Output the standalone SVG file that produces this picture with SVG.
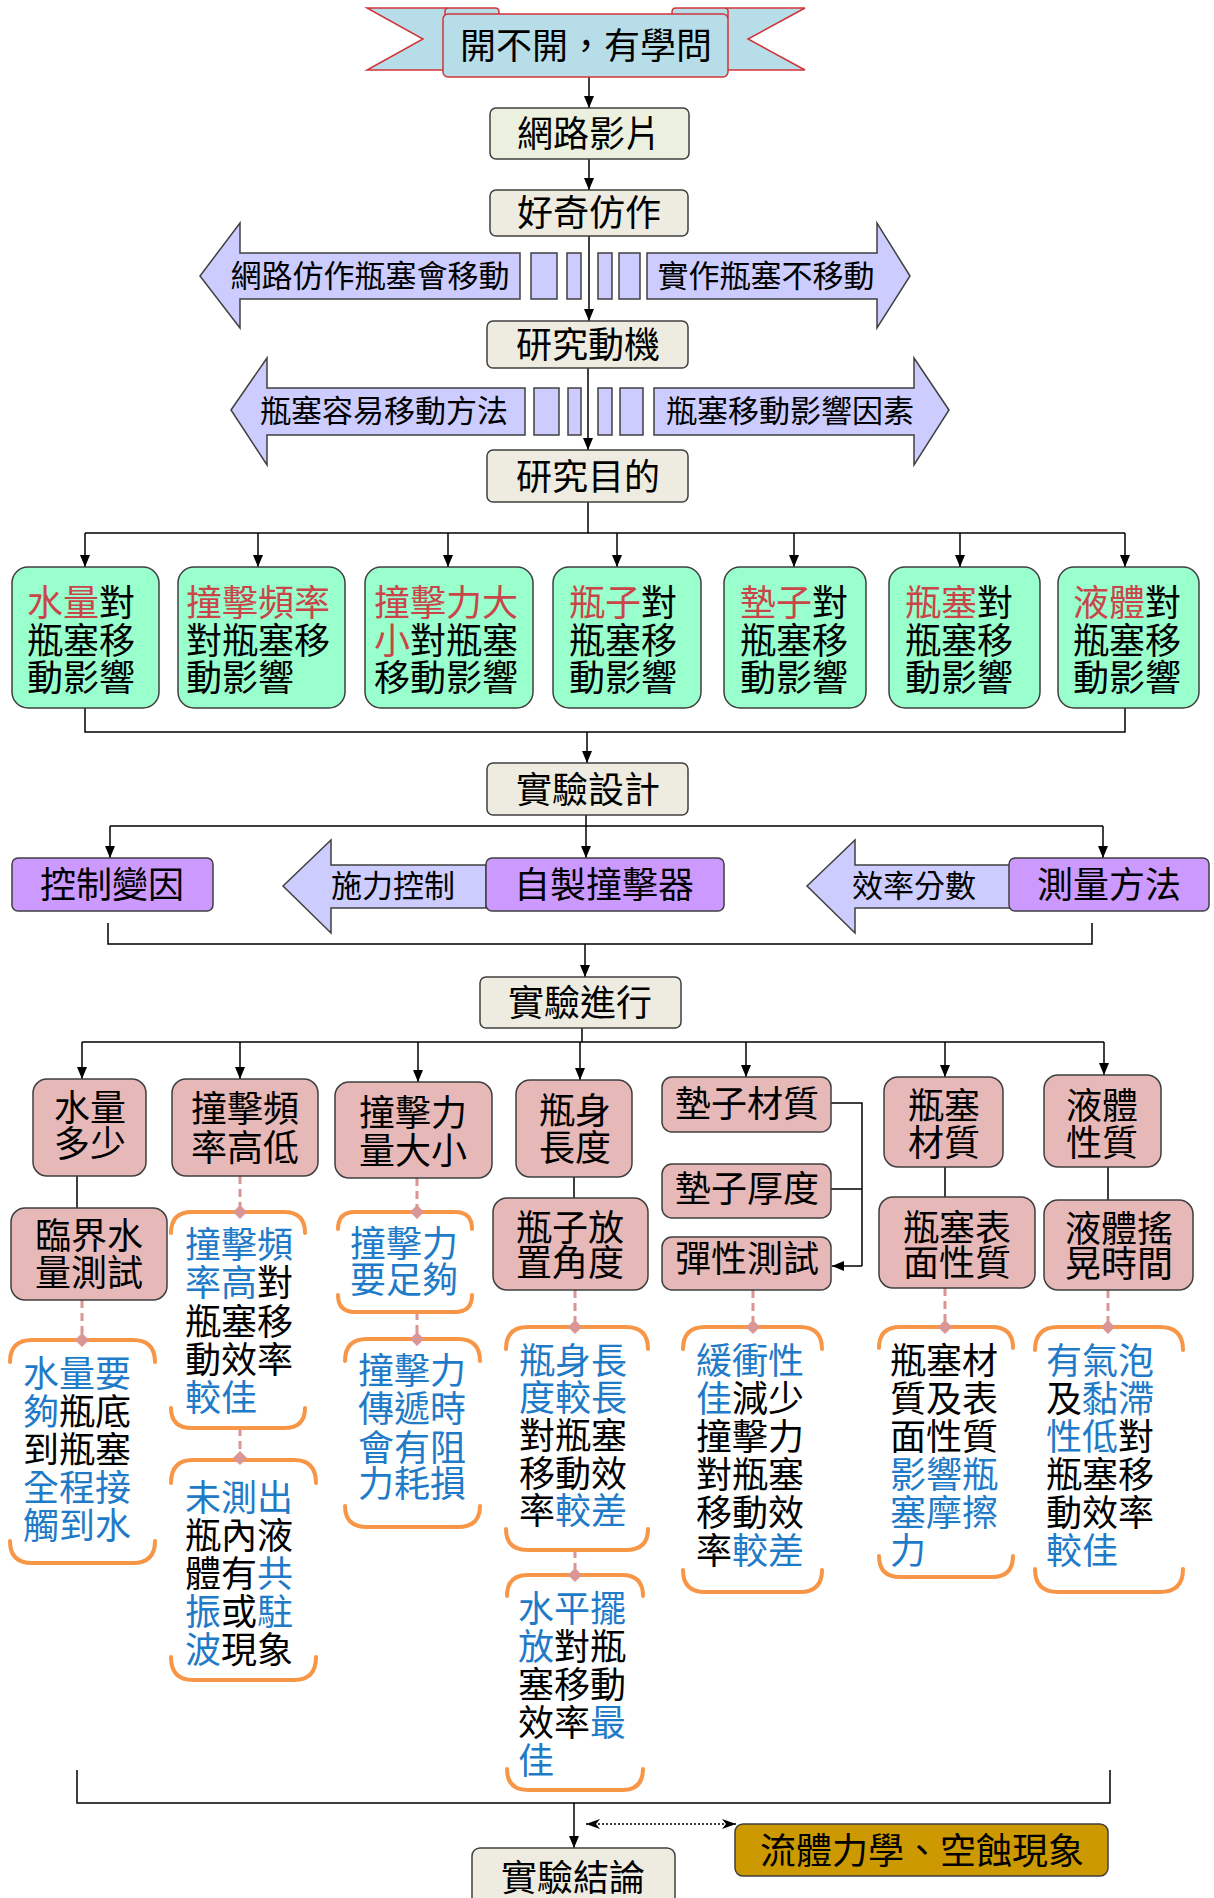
<svg xmlns="http://www.w3.org/2000/svg" width="1214" height="1898" viewBox="0 0 1214 1898">
<style>
.bx{stroke:#3f3f3f;stroke-width:1.5}
.tan{fill:#eeece1}.lg{fill:#ebf1de}.gr{fill:#99ffcc}.pu{fill:#cc99ff}.pk{fill:#e6b9b8}.gd{fill:#cc9900}
.ar{fill:#ccccff;stroke:#404040;stroke-width:1.5}
.t{font-family:"Noto Sans CJK TC","Noto Sans CJK SC",sans-serif;font-size:36px;fill:#000}
.s{font-size:31px}
.m{text-anchor:middle}
.b{fill:#1f7bc8}.r{fill:#c8464a}
.br{fill:none;stroke:#f79646;stroke-width:4;stroke-linecap:round}
.da{stroke:#d99694;stroke-width:3;stroke-dasharray:8 5;fill:none}
.dm{fill:#d99694}
.c{stroke:#000;stroke-width:1.5;fill:none}
</style>
<defs>
<marker id="ah" viewBox="0 0 12 10" refX="12" refY="5" markerWidth="12" markerHeight="10" markerUnits="userSpaceOnUse" orient="auto"><path d="M0,0 L12,5 L0,10 Z" fill="#000"/></marker>
<marker id="ab" viewBox="0 0 14 10" refX="14" refY="5" markerWidth="14" markerHeight="10" markerUnits="userSpaceOnUse" orient="auto-start-reverse"><path d="M0,0 L14,5 L0,10 L4,5 Z" fill="#000"/></marker>
</defs>
<rect width="1214" height="1898" fill="#fff"/>

<g id="connectors">
<line class="c" x1="589" y1="77" x2="589" y2="108" marker-end="url(#ah)"/>
<line class="c" x1="589" y1="159" x2="589" y2="190" marker-end="url(#ah)"/>
<line class="c" x1="589" y1="236" x2="589" y2="321" marker-end="url(#ah)"/>
<line class="c" x1="588" y1="368" x2="588" y2="450" marker-end="url(#ah)"/>
<path class="c" d="M588,502 V533 M85,533 H1125"/>
<line class="c" x1="85" y1="533" x2="85" y2="567" marker-end="url(#ah)"/>
<line class="c" x1="258" y1="533" x2="258" y2="567" marker-end="url(#ah)"/>
<line class="c" x1="448" y1="533" x2="448" y2="567" marker-end="url(#ah)"/>
<line class="c" x1="617" y1="533" x2="617" y2="567" marker-end="url(#ah)"/>
<line class="c" x1="794" y1="533" x2="794" y2="567" marker-end="url(#ah)"/>
<line class="c" x1="960" y1="533" x2="960" y2="567" marker-end="url(#ah)"/>
<line class="c" x1="1125" y1="533" x2="1125" y2="567" marker-end="url(#ah)"/>
<path class="c" d="M85,708 V732 H1125 V708"/>
<line class="c" x1="587" y1="732" x2="587" y2="763" marker-end="url(#ah)"/>
<path class="c" d="M586,815 V826 M110,826 H1103"/>
<line class="c" x1="110" y1="826" x2="110" y2="858" marker-end="url(#ah)"/>
<line class="c" x1="586" y1="826" x2="586" y2="858" marker-end="url(#ah)"/>
<line class="c" x1="1103" y1="826" x2="1103" y2="858" marker-end="url(#ah)"/>
<path class="c" d="M108,923 V944 H1092 V923"/>
<line class="c" x1="585" y1="944" x2="585" y2="977" marker-end="url(#ah)"/>
<path class="c" d="M582,1028 V1042 M82,1042 H1104"/>
<line class="c" x1="82" y1="1042" x2="82" y2="1079" marker-end="url(#ah)"/>
<line class="c" x1="240" y1="1042" x2="240" y2="1079" marker-end="url(#ah)"/>
<line class="c" x1="418" y1="1042" x2="418" y2="1082" marker-end="url(#ah)"/>
<line class="c" x1="580" y1="1042" x2="580" y2="1080" marker-end="url(#ah)"/>
<line class="c" x1="746" y1="1042" x2="746" y2="1077" marker-end="url(#ah)"/>
<line class="c" x1="945" y1="1042" x2="945" y2="1077" marker-end="url(#ah)"/>
<line class="c" x1="1104" y1="1042" x2="1104" y2="1075" marker-end="url(#ah)"/>
<path class="c" d="M77,1176 V1208 M574,1177 V1198 M945,1167 V1197 M1108,1167 V1200"/>
<path class="c" d="M831,1103 H862 V1266 M831,1189 H862"/>
<line class="c" x1="862" y1="1266" x2="832" y2="1266" marker-end="url(#ah)"/>
<path class="da" d="M82,1300 V1340 M240,1176 V1212 M240,1428 V1460 M417,1178 V1212 M417,1312 V1339 M575,1290 V1327 M575,1550 V1575 M753,1290 V1327 M945,1288 V1327 M1108,1290 V1327"/>
<path class="c" d="M77,1770 V1803 H1110 V1770"/>
<line class="c" x1="574" y1="1803" x2="574" y2="1848" marker-end="url(#ah)"/>
<line x1="586" y1="1824" x2="736" y2="1824" stroke="#000" stroke-width="1.5" stroke-dasharray="2 2" marker-start="url(#ab)" marker-end="url(#ab)"/>
</g>

<g id="title">
<path d="M367,8 H447 V70 H367 L423,39 Z" fill="#b7dde8" stroke="#d13438" stroke-width="1.5"/>
<path d="M805,8 H726 V70 H805 L748,39 Z" fill="#b7dde8" stroke="#d13438" stroke-width="1.5"/>
<path d="M445,17 V11 Q445,8 449,8 H495 Q499,8 499,12 V17 Z" fill="#b7dde8" stroke="#d13438" stroke-width="1.5"/>
<path d="M728,17 V11 Q728,8 724,8 H676 Q672,8 672,12 V17 Z" fill="#b7dde8" stroke="#d13438" stroke-width="1.5"/>
<rect x="443" y="14" width="285" height="63" rx="5" fill="#b7dde8" stroke="#d13438" stroke-width="1.5"/>
<text class="t m" x="586" y="59">開不開，有學問</text>
</g>

<g id="n-video"><rect class="bx lg" x="490" y="108" width="199" height="51" rx="6"/><text class="t m" x="589" y="147">網路影片</text></g>
<g id="n-imitate"><rect class="bx tan" x="490" y="190" width="198" height="46" rx="6"/><text class="t m" x="589" y="226">好奇仿作</text></g>

<g id="n-arrows1">
<path class="ar" d="M200,276 L240,223 V253 H520 V299 H240 V328 Z"/>
<path class="ar" d="M910,276 L877,223 V253 H647 V299 H877 V328 Z"/>
<rect class="ar" x="531" y="253" width="26" height="46"/>
<rect class="ar" x="567" y="253" width="14" height="46"/>
<rect class="ar" x="598" y="253" width="14" height="46"/>
<rect class="ar" x="619" y="253" width="21" height="46"/>
<text class="t s m" x="370" y="287">網路仿作瓶塞會移動</text>
<text class="t s m" x="766" y="287">實作瓶塞不移動</text>
</g>

<g id="n-motive"><rect class="bx tan" x="487" y="321" width="201" height="47" rx="6"/><text class="t m" x="588" y="358">研究動機</text></g>

<g id="n-arrows2">
<path class="ar" d="M231,410 L267,358 V388 H525 V435 H267 V465 Z"/>
<path class="ar" d="M949,410 L914,358 V388 H654 V435 H914 V465 Z"/>
<rect class="ar" x="534" y="388" width="25" height="47"/>
<rect class="ar" x="568" y="388" width="13" height="47"/>
<rect class="ar" x="598" y="388" width="14" height="47"/>
<rect class="ar" x="620" y="388" width="23" height="47"/>
<text class="t s m" x="384" y="422">瓶塞容易移動方法</text>
<text class="t s m" x="790" y="422">瓶塞移動影響因素</text>
</g>

<g id="n-purpose"><rect class="bx tan" x="487" y="450" width="201" height="52" rx="6"/><text class="t m" x="588" y="490">研究目的</text></g>

<g id="p1"><rect class="bx gr" x="12" y="567" width="147" height="141" rx="16"/><text class="t" x="27" y="616"><tspan class="r">水量</tspan>對<tspan x="27" y="654">瓶塞移</tspan><tspan x="27" y="691">動影響</tspan></text></g>
<g id="p2"><rect class="bx gr" x="178" y="567" width="167" height="141" rx="16"/><text class="t" x="186" y="616"><tspan class="r">撞擊頻率</tspan><tspan x="186" y="654">對瓶塞移</tspan><tspan x="186" y="691">動影響</tspan></text></g>
<g id="p3"><rect class="bx gr" x="365" y="567" width="168" height="141" rx="16"/><text class="t" x="374" y="616"><tspan class="r">撞擊力大</tspan><tspan x="374" y="654" class="r">小</tspan>對瓶塞<tspan x="374" y="691">移動影響</tspan></text></g>
<g id="p4"><rect class="bx gr" x="553" y="567" width="148" height="141" rx="16"/><text class="t" x="569" y="616"><tspan class="r">瓶子</tspan>對<tspan x="569" y="654">瓶塞移</tspan><tspan x="569" y="691">動影響</tspan></text></g>
<g id="p5"><rect class="bx gr" x="724" y="567" width="142" height="141" rx="16"/><text class="t" x="740" y="616"><tspan class="r">墊子</tspan>對<tspan x="740" y="654">瓶塞移</tspan><tspan x="740" y="691">動影響</tspan></text></g>
<g id="p6"><rect class="bx gr" x="889" y="567" width="151" height="141" rx="16"/><text class="t" x="905" y="616"><tspan class="r">瓶塞</tspan>對<tspan x="905" y="654">瓶塞移</tspan><tspan x="905" y="691">動影響</tspan></text></g>
<g id="p7"><rect class="bx gr" x="1058" y="567" width="141" height="141" rx="16"/><text class="t" x="1073" y="616"><tspan class="r">液體</tspan>對<tspan x="1073" y="654">瓶塞移</tspan><tspan x="1073" y="691">動影響</tspan></text></g>

<g id="n-design"><rect class="bx tan" x="487" y="763" width="201" height="52" rx="6"/><text class="t m" x="588" y="803">實驗設計</text></g>
<g id="n-control"><rect class="bx pu" x="12" y="858" width="201" height="53" rx="6"/><text class="t m" x="112" y="898">控制變因</text></g>
<g id="n-force"><path class="ar" d="M283,886 L331,840 V865 H486 V908 H331 V933 Z"/><text class="t s m" x="393" y="897">施力控制</text></g>
<g id="n-striker"><rect class="bx pu" x="486" y="858" width="238" height="53" rx="6"/><text class="t m" x="604" y="898">自製撞擊器</text></g>
<g id="n-score"><path class="ar" d="M807,886 L855,840 V865 H1010 V908 H855 V933 Z"/><text class="t s m" x="914" y="897">效率分數</text></g>
<g id="n-measure"><rect class="bx pu" x="1009" y="858" width="200" height="53" rx="6"/><text class="t m" x="1109" y="898">測量方法</text></g>
<g id="n-run"><rect class="bx tan" x="480" y="977" width="201" height="51" rx="6"/><text class="t m" x="580" y="1016">實驗進行</text></g>

<g id="q1"><rect class="bx pk" x="33" y="1079" width="113" height="97" rx="14"/><text class="t m" x="90" y="1121">水量<tspan x="90" y="1157">多少</tspan></text></g>
<g id="q1b"><rect class="bx pk" x="11" y="1208" width="156" height="92" rx="14"/><text class="t m" x="89" y="1249">臨界水<tspan x="89" y="1286">量測試</tspan></text></g>
<g id="q2"><rect class="bx pk" x="172" y="1079" width="146" height="97" rx="14"/><text class="t m" x="245" y="1122">撞擊頻<tspan x="245" y="1161">率高低</tspan></text></g>
<g id="q3"><rect class="bx pk" x="335" y="1082" width="157" height="96" rx="14"/><text class="t m" x="413" y="1126">撞擊力<tspan x="413" y="1164">量大小</tspan></text></g>
<g id="q4"><rect class="bx pk" x="516" y="1080" width="116" height="97" rx="14"/><text class="t m" x="575" y="1124">瓶身<tspan x="575" y="1161">長度</tspan></text></g>
<g id="q4b"><rect class="bx pk" x="493" y="1198" width="155" height="92" rx="14"/><text class="t m" x="570" y="1241">瓶子放<tspan x="570" y="1276">置角度</tspan></text></g>
<g id="q5a"><rect class="bx pk" x="662" y="1077" width="169" height="55" rx="10"/><text class="t m" x="747" y="1117">墊子材質</text></g>
<g id="q5b"><rect class="bx pk" x="662" y="1164" width="169" height="54" rx="10"/><text class="t m" x="747" y="1202">墊子厚度</text></g>
<g id="q5c"><rect class="bx pk" x="662" y="1237" width="169" height="53" rx="10"/><text class="t m" x="747" y="1272">彈性測試</text></g>
<g id="q6"><rect class="bx pk" x="884" y="1077" width="119" height="90" rx="14"/><text class="t m" x="944" y="1119">瓶塞<tspan x="944" y="1156">材質</tspan></text></g>
<g id="q6b"><rect class="bx pk" x="879" y="1197" width="156" height="91" rx="14"/><text class="t m" x="957" y="1241">瓶塞表<tspan x="957" y="1276">面性質</tspan></text></g>
<g id="q7"><rect class="bx pk" x="1044" y="1075" width="117" height="92" rx="14"/><text class="t m" x="1102" y="1119">液體<tspan x="1102" y="1156">性質</tspan></text></g>
<g id="q7b"><rect class="bx pk" x="1044" y="1200" width="149" height="90" rx="14"/><text class="t m" x="1119" y="1242">液體搖<tspan x="1119" y="1277">晃時間</tspan></text></g>

<g id="r1">
<path class="br" d="M10,1362 Q10,1340 32,1340 H133 Q155,1340 155,1362 M10,1541 Q10,1563 32,1563 H133 Q155,1563 155,1541"/>
<path class="dm" d="M82,1333 L89,1340 L82,1347 L75,1340 Z"/>
<text class="t" x="23" y="1387"><tspan class="b">水量要</tspan><tspan x="23" y="1425" class="b">夠</tspan>瓶底<tspan x="23" y="1463">到瓶塞</tspan><tspan x="23" y="1501" class="b">全程接</tspan><tspan x="23" y="1539" class="b">觸到水</tspan></text>
</g>
<g id="r2">
<path class="br" d="M171,1233 Q171,1212 192,1212 H284 Q305,1212 305,1233 M171,1408 Q171,1428 192,1428 H284 Q305,1428 305,1408"/>
<path class="dm" d="M240,1205 L247,1212 L240,1219 L233,1212 Z"/>
<text class="t" x="185" y="1258"><tspan class="b">撞擊頻</tspan><tspan x="185" y="1296" class="b">率高</tspan>對<tspan x="185" y="1335">瓶塞移</tspan><tspan x="185" y="1373">動效率</tspan><tspan x="185" y="1411" class="b">較佳</tspan></text>
</g>
<g id="r2b">
<path class="br" d="M171,1483 Q171,1460 193,1460 H294 Q316,1460 316,1483 M171,1657 Q171,1680 193,1680 H294 Q316,1680 316,1657"/>
<path class="dm" d="M240,1451 L247,1458 L240,1465 L233,1458 Z"/>
<text class="t" x="185" y="1511"><tspan class="b">未測出</tspan><tspan x="185" y="1549">瓶內液</tspan><tspan x="185" y="1587">體有</tspan><tspan class="b">共</tspan><tspan x="185" y="1625" class="b">振</tspan>或<tspan class="b">駐</tspan><tspan x="185" y="1663" class="b">波</tspan>現象</text>
</g>
<g id="r3">
<path class="br" d="M338,1229 Q338,1212 355,1212 H455 Q472,1212 472,1229 M338,1295 Q338,1312 355,1312 H455 Q472,1312 472,1295"/>
<path class="dm" d="M417,1205 L424,1212 L417,1219 L410,1212 Z"/>
<text class="t b" x="350" y="1257">撞擊力<tspan x="350" y="1293">要足夠</tspan></text>
</g>
<g id="r3b">
<path class="br" d="M345,1361 Q345,1339 367,1339 H458 Q480,1339 480,1361 M345,1506 Q345,1527 367,1527 H458 Q480,1527 480,1506"/>
<path class="dm" d="M417,1332 L424,1339 L417,1346 L410,1339 Z"/>
<text class="t b" x="358" y="1384">撞擊力<tspan x="358" y="1422">傳遞時</tspan><tspan x="358" y="1461">會有阻</tspan><tspan x="358" y="1497">力耗損</tspan></text>
</g>
<g id="r4">
<path class="br" d="M506,1349 Q506,1327 528,1327 H626 Q648,1327 648,1349 M506,1529 Q506,1550 528,1550 H626 Q648,1550 648,1529"/>
<path class="dm" d="M575,1320 L582,1327 L575,1334 L568,1327 Z"/>
<text class="t" x="519" y="1374"><tspan class="b">瓶身長</tspan><tspan x="519" y="1411" class="b">度較長</tspan><tspan x="519" y="1449">對瓶塞</tspan><tspan x="519" y="1487">移動效</tspan><tspan x="519" y="1524">率</tspan><tspan class="b">較差</tspan></text>
</g>
<g id="r4b">
<path class="br" d="M507,1596 Q507,1575 528,1575 H622 Q643,1575 643,1596 M507,1769 Q507,1790 528,1790 H622 Q643,1790 643,1769"/>
<path class="dm" d="M575,1568 L582,1575 L575,1582 L568,1575 Z"/>
<text class="t" x="518" y="1622"><tspan class="b">水平擺</tspan><tspan x="518" y="1660" class="b">放</tspan>對瓶<tspan x="518" y="1698">塞移動</tspan><tspan x="518" y="1736">效率</tspan><tspan class="b">最</tspan><tspan x="518" y="1774" class="b">佳</tspan></text>
</g>
<g id="r5">
<path class="br" d="M683,1349 Q683,1327 705,1327 H800 Q822,1327 822,1349 M683,1570 Q683,1592 705,1592 H800 Q822,1592 822,1570"/>
<path class="dm" d="M753,1320 L760,1327 L753,1334 L746,1327 Z"/>
<text class="t" x="696" y="1374"><tspan class="b">緩衝性</tspan><tspan x="696" y="1412" class="b">佳</tspan>減少<tspan x="696" y="1450">撞擊力</tspan><tspan x="696" y="1488">對瓶塞</tspan><tspan x="696" y="1526">移動效</tspan><tspan x="696" y="1564">率</tspan><tspan class="b">較差</tspan></text>
</g>
<g id="r6">
<path class="br" d="M879,1348 Q879,1327 900,1327 H992 Q1013,1327 1013,1348 M879,1556 Q879,1577 900,1577 H992 Q1013,1577 1013,1556"/>
<path class="dm" d="M945,1320 L952,1327 L945,1334 L938,1327 Z"/>
<text class="t" x="890" y="1374">瓶塞材<tspan x="890" y="1412">質及表</tspan><tspan x="890" y="1450">面性質</tspan><tspan x="890" y="1488" class="b">影響瓶</tspan><tspan x="890" y="1526" class="b">塞摩擦</tspan><tspan x="890" y="1564" class="b">力</tspan></text>
</g>
<g id="r7">
<path class="br" d="M1035,1350 Q1035,1327 1058,1327 H1160 Q1183,1327 1183,1350 M1035,1569 Q1035,1592 1058,1592 H1160 Q1183,1592 1183,1569"/>
<path class="dm" d="M1108,1320 L1115,1327 L1108,1334 L1101,1327 Z"/>
<text class="t" x="1046" y="1374"><tspan class="b">有氣泡</tspan><tspan x="1046" y="1412">及</tspan><tspan class="b">黏滯</tspan><tspan x="1046" y="1450" class="b">性低</tspan>對<tspan x="1046" y="1488">瓶塞移</tspan><tspan x="1046" y="1526">動效率</tspan><tspan x="1046" y="1564" class="b">較佳</tspan></text>
</g>

<g id="n-conclusion"><rect class="bx tan" x="472" y="1848" width="203" height="62" rx="8"/><text class="t m" x="573" y="1891">實驗結論</text></g>
<g id="n-fluid"><rect class="bx gd" x="735" y="1824" width="373" height="52" rx="8"/><text class="t m" x="922" y="1864">流體力學、空蝕現象</text></g>
</svg>
